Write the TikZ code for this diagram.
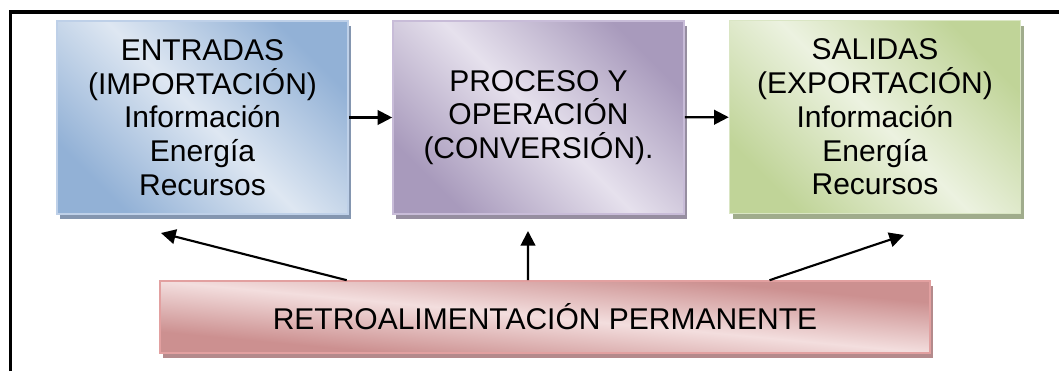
\documentclass[tikz,border=0pt]{standalone}
\usepackage{fontspec}
\setmainfont{Liberation Sans}
\usetikzlibrary{arrows.meta,shadows,calc}
\definecolor{bdark}{RGB}{146,177,214}
\definecolor{blight}{RGB}{222,231,242}
\definecolor{bedge}{RGB}{190,208,232}
\definecolor{bshadow}{RGB}{132,150,176}
\definecolor{pdark}{RGB}{168,154,188}
\definecolor{plight}{RGB}{230,225,237}
\definecolor{pedge}{RGB}{200,188,216}
\definecolor{pshadow}{RGB}{150,142,160}
\definecolor{gdark}{RGB}{192,212,152}
\definecolor{glight}{RGB}{236,242,224}
\definecolor{gedge}{RGB}{218,230,196}
\definecolor{gshadow}{RGB}{160,172,140}
\definecolor{rdark}{RGB}{204,144,144}
\definecolor{rlight}{RGB}{243,222,222}
\definecolor{redge}{RGB}{226,160,160}
\definecolor{rshadow}{RGB}{180,138,140}
\tikzset{
  px/.style={x=0.75pt,y=-0.75pt},
  box/.style={rectangle, minimum width=218.25pt, minimum height=144.75pt,
    inner sep=0pt, align=center, line width=1.2pt,
    font=\fontsize{22.5}{25.3}\selectfont},
  fill blue/.style={draw=bedge, left color=bdark, right color=bdark, middle color=blight, shading angle=-45,
    general shadow={shadow xshift=2.25pt, shadow yshift=-3.75pt, fill=bshadow}},
  fill purple/.style={draw=pedge, left color=pdark, right color=pdark, middle color=plight, shading angle=-45,
    general shadow={shadow xshift=2.25pt, shadow yshift=-3.75pt, fill=pshadow}},
  fill green/.style={draw=gedge, left color=gdark, right color=gdark, middle color=glight, shading angle=-45,
    general shadow={shadow xshift=2.25pt, shadow yshift=-3.75pt, fill=gshadow}},
  redshade/.style={left color=rdark, right color=rdark, middle color=rlight, shading angle=-45},
  arr/.style={line width=1.6pt, -{Triangle[length=11pt,width=11pt]}},
  frame/.style={line width=2.8pt, black}
}
\begin{document}
\begin{tikzpicture}[px]
\useasboundingbox (0,0) rectangle (1059,371);
\draw[frame] (10.5,371) -- (10.5,12) -- (1059,12);
\node[box, fill blue] (b1) at (202.5,117.5) {ENTRADAS\\(IMPORTACIÓN)\\Información\\Energía\\Recursos};
\node[box, fill purple] (b2) at (538.5,117.5) {PROCESO Y\\OPERACIÓN\\(CONVERSIÓN).};
\node[box, fill green] (b3) at (875,117) {SALIDAS\\(EXPORTACIÓN)\\Información\\Energía\\Recursos};
% feedback box: shadow, stretched diagonal gradient, then node
\fill[rshadow] (163,286) rectangle (933,358);
\begin{scope}[transform canvas={shift={(408.75pt,-237.75pt)}, xscale=10.6944}]
  \shade[redshade] (-27pt,-27pt) rectangle (27pt,27pt);
\end{scope}
\node[box, draw=redge, minimum width=577.5pt, minimum height=54pt] (fb) at (545,317) {RETROALIMENTACIÓN PERMANENTE};
\draw[arr] (b1) -- (b2);
\draw[arr] (b2) -- (b3);
\coordinate (t1) at (161,233);
\coordinate (t2) at (528,231);
\coordinate (t3) at (904,235);
\draw[arr] ($(fb.north west)!0.243!(fb.north east)$) -- (t1);
\draw[arr] ($(fb.north west)!0.478!(fb.north east)$) -- (t2);
\draw[arr] ($(fb.north west)!0.791!(fb.north east)$) -- (t3);
\end{tikzpicture}
\end{document}
